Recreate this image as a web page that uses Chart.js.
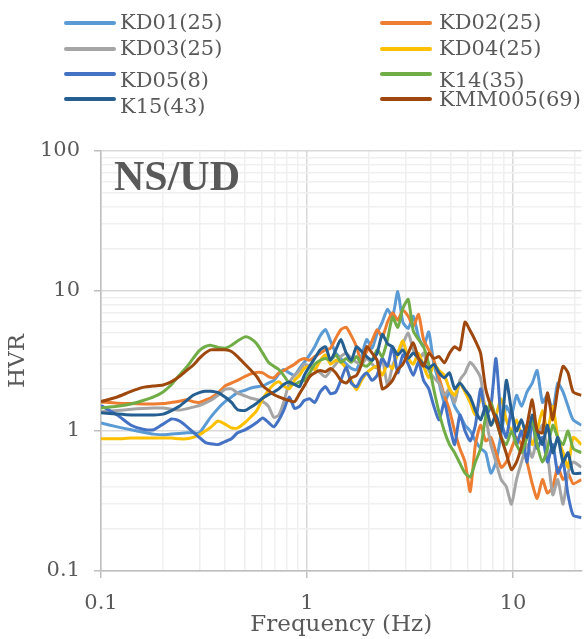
<!DOCTYPE html>
<html>
<head>
<meta charset="utf-8">
<script src="https://cdn.jsdelivr.net/npm/chart.js@4.4.0/dist/chart.umd.min.js"></script>
<style>
  body { margin: 0; background: #fff; }
  #wrap { position: relative; width: 588px; height: 639px; overflow: hidden; }
  #wrap canvas { position: absolute; left: 0; top: 0; }
  .leg-line { position: absolute; width: 52px; height: 4px; border-radius: 2px; }
  .leg-text { position: absolute; font-family: "DejaVu Serif"; font-size: 21px; line-height: 21px; color: #595959; white-space: nowrap; }
  #tag { position: absolute; left: 114px; top: 155px; font-family: "Liberation Serif"; font-weight: bold; font-size: 42px; line-height: 42px; color: #595959; }
</style>
</head>
<body>
<div id="wrap">
  <canvas id="hvr" width="588" height="639"></canvas>
  <div id="tag">NS/UD</div>
</div>
<script>
// frequencies (Hz), shared by every station
const freq = [0.1, 0.12, 0.14, 0.16, 0.18, 0.2, 0.22, 0.24, 0.26, 0.28,
  0.3, 0.32, 0.34, 0.37, 0.4, 0.43, 0.46, 0.5, 0.53, 0.57,
  0.61, 0.65, 0.69, 0.73, 0.77, 0.82, 0.87, 0.92, 0.97, 1.03,
  1.09, 1.16, 1.23, 1.3, 1.38, 1.46, 1.55, 1.64, 1.74, 1.84,
  1.95, 2.07, 2.19, 2.32, 2.46, 2.6, 2.76, 2.92, 3.1, 3.28,
  3.48, 3.68, 3.9, 4.13, 4.38, 4.64, 4.92, 5.21, 5.52, 5.85,
  6.2, 6.57, 6.96, 7.37, 7.81, 8.27, 8.76, 9.28, 9.83, 10.4,
  11.0, 11.7, 12.4, 13.1, 13.9, 14.7, 15.6, 16.5, 17.5, 18.5,
  19.6, 21.5]

// H/V ratios
const kd01 = [1.14, 1.07, 1.02, 0.98, 0.95, 0.94, 0.95, 0.96, 0.97, 0.97,
  0.97, 1.1, 1.25, 1.45, 1.62, 1.75, 1.88, 1.95, 2.02, 2.07,
  2.1, 2.2, 2.3, 2.55, 2.75, 2.6, 2.5, 2.8, 3.1, 3.5,
  4.0, 4.8, 5.3, 4.4, 3.6, 3.3, 3.0, 2.8, 2.74, 3.4,
  4.5, 3.9, 5.0, 6.0, 7.4, 6.5, 9.9, 6.0, 5.4, 6.6,
  4.7, 4.0, 5.1, 3.0, 2.2, 1.6, 1.9, 1.5, 1.3, 1.1,
  1.0, 0.85, 0.75, 0.7, 0.5, 0.6, 0.95, 1.5, 1.3, 1.8,
  1.5, 1.9, 2.2, 2.7, 1.6, 1.8, 1.4, 2.2, 1.9, 1.5,
  1.2, 1.1]
const kd02 = [1.61, 1.58, 1.57, 1.56, 1.56, 1.57, 1.6, 1.63, 1.67, 1.62,
  1.6, 1.66, 1.72, 1.87, 2.1, 2.2, 2.3, 2.45, 2.55, 2.62,
  2.6, 2.45, 2.4, 2.6, 2.7, 2.85, 3.0, 3.2, 3.3, 3.2,
  3.4, 3.6, 3.8, 3.9, 4.6, 5.3, 5.5, 4.8, 4.0, 3.1,
  3.7, 4.4, 5.3, 4.7, 6.0, 7.0, 6.2, 7.3, 6.6, 5.6,
  6.8, 4.5, 3.8, 3.2, 2.4, 1.8, 1.4, 1.0, 0.75, 0.6,
  0.37, 0.8, 1.1, 0.85, 0.9, 0.7, 0.55, 0.6, 0.75, 0.9,
  0.8, 0.6, 0.42, 0.33, 0.45, 0.36, 0.4, 0.55, 0.45, 0.5,
  0.42, 0.45]
const kd03 = [1.37, 1.4, 1.43, 1.45, 1.46, 1.46, 1.43, 1.41, 1.44, 1.48,
  1.52, 1.58, 1.65, 1.8, 1.98, 2.0, 1.87, 1.78, 1.72, 1.68,
  1.62, 1.5, 1.25, 1.3, 1.6, 2.2, 2.5, 2.7, 3.0, 2.9,
  2.8, 2.6, 2.44, 2.7, 3.0, 3.4, 3.6, 3.3, 3.1, 3.0,
  3.3, 3.0, 2.8, 3.3, 2.1, 2.9, 3.6, 4.2, 5.0, 3.8,
  3.2, 3.6, 2.7, 2.4, 2.2, 1.8, 2.0, 1.6, 2.3, 2.6,
  3.1, 2.8, 2.4, 1.3, 0.8, 0.6, 0.45, 0.4, 0.3, 0.45,
  0.6, 0.8, 0.65, 0.9, 1.1, 0.7, 0.35, 0.45, 0.3, 0.5,
  0.6, 0.55]
const kd04 = [0.88, 0.88, 0.89, 0.89, 0.89, 0.89, 0.89, 0.88, 0.88, 0.9,
  0.94, 1.0, 1.06, 1.18, 1.12, 1.05, 1.05, 1.15, 1.25, 1.4,
  1.7, 1.95, 2.15, 2.25, 2.1, 2.0, 2.3, 2.5, 2.8, 2.9,
  2.74, 3.2, 3.5, 3.0, 3.2, 3.1, 2.8, 2.3, 1.97, 2.3,
  2.6, 2.8, 2.9, 2.5, 3.0, 2.8, 3.6, 4.4, 3.3, 3.0,
  3.6, 2.9, 2.4, 3.0, 2.7, 2.5, 2.0, 1.8, 2.2, 1.9,
  1.6, 1.3, 1.7, 1.5, 1.1, 1.3, 1.7, 1.2, 1.0, 1.2,
  0.95, 1.1, 0.8, 1.0, 1.4, 1.0, 1.5, 0.9, 0.7, 0.55,
  0.9, 0.8]
const kd05 = [1.52, 1.3, 1.1, 1.03, 1.02, 1.12, 1.22, 1.18, 1.08, 0.98,
  0.9, 0.83, 0.81, 0.8, 0.84, 0.88, 0.97, 1.02, 1.07, 1.15,
  1.24, 1.15, 1.07, 1.2, 1.4, 1.75, 1.45, 1.5, 1.65, 1.7,
  1.6, 1.9, 2.07, 1.85, 1.9, 2.3, 2.87, 2.2, 2.07, 2.4,
  2.6, 2.3, 2.5, 3.3, 2.9, 4.0, 2.6, 3.5, 3.0, 2.5,
  3.1, 2.3, 2.0, 1.5, 1.2, 1.6, 1.1, 0.8, 1.3, 1.0,
  0.85, 1.1, 2.0, 1.3, 1.5, 3.3, 1.2, 0.9, 1.4, 0.8,
  1.0, 0.6, 1.2, 0.75, 0.9, 0.6, 0.8, 0.5, 0.6, 0.35,
  0.25, 0.24]
const k14 = [1.46, 1.5, 1.56, 1.65, 1.75, 1.9, 2.15, 2.5, 2.85, 3.3,
  3.75, 4.0, 4.1, 3.95, 3.9, 4.1, 4.4, 4.7, 4.6, 4.2,
  3.6, 3.1, 2.9, 2.75, 2.5, 2.2, 2.15, 2.24, 2.3, 2.6,
  3.0, 3.2, 3.3, 3.2, 3.5, 3.1, 3.3, 3.1, 3.4, 3.0,
  2.9, 3.2, 3.8, 3.4, 4.5, 6.5, 5.5, 7.5, 8.7, 5.2,
  4.5, 4.0, 3.0, 1.97, 1.35, 1.0, 0.8, 0.7, 0.59, 0.5,
  0.47, 0.6, 0.75, 1.26, 1.6, 1.2, 0.9, 0.8, 1.0, 0.8,
  0.7, 0.9, 1.2, 0.8, 0.6, 0.75, 1.1, 0.9, 0.8, 1.0,
  0.75, 0.7]
const k15 = [1.35, 1.32, 1.3, 1.3, 1.3, 1.32, 1.4, 1.5, 1.65, 1.8,
  1.88, 1.92, 1.92, 1.88, 1.75, 1.6, 1.42, 1.4, 1.47, 1.58,
  1.72, 1.82, 1.9, 2.0, 2.15, 2.24, 2.15, 2.07, 2.5, 2.9,
  3.3, 3.8, 4.0, 3.2, 3.8, 4.5, 3.6, 3.2, 4.0, 3.7,
  3.4, 3.2, 3.6, 4.9, 4.2, 4.0, 3.5, 3.8, 3.3, 3.6,
  3.3, 3.0, 2.8, 3.0, 2.6, 2.4, 2.6, 2.0, 2.2, 1.97,
  1.75, 1.4, 1.2, 1.5, 1.1, 1.3, 1.0, 2.3, 1.4, 1.0,
  1.2, 0.9, 1.3, 1.0, 0.8, 1.1, 0.7, 0.9, 0.6, 0.7,
  0.5, 0.5]
const kmm005 = [1.62, 1.75, 1.92, 2.05, 2.1, 2.13, 2.25, 2.45, 2.7, 2.95,
  3.3, 3.6, 3.8, 3.8, 3.8, 3.7, 3.4, 3.0, 2.75, 2.45,
  2.1, 1.95, 1.82, 1.75, 1.7, 1.65, 1.62, 1.85, 2.1, 2.44,
  2.6, 2.7, 2.65, 2.8, 2.6, 2.3, 2.2, 2.4, 2.5, 3.0,
  4.0, 3.6, 3.2, 2.0, 2.1, 2.3, 2.74, 3.0, 3.6, 4.27,
  3.3, 2.9, 3.6, 3.3, 3.4, 3.07, 3.6, 4.0, 3.8, 6.0,
  5.2, 4.4, 3.6, 2.0, 1.5, 1.2, 0.9, 0.69, 0.53, 0.6,
  0.77, 1.1, 1.67, 1.0, 0.97, 1.87, 1.2, 2.0, 2.9, 2.6,
  1.9, 1.8]

const seriesNames = ['KD01(25)', 'KD02(25)', 'KD03(25)', 'KD04(25)', 'KD05(8)', 'K14(35)', 'K15(43)', 'KMM005(69)']
const seriesValues = [kd01, kd02, kd03, kd04, kd05, k14, k15, kmm005]
const seriesColors = ['#5B9BD5', '#ED7D31', '#A5A5A5', '#FFC000', '#4472C4', '#70AD47', '#255E91', '#9E480E']

const xMin = 0.1, xMax = 21.5
const yMin = 0.1, yMax = 100

// 1..9 x 10^n ticks so every minor grid line shows
function logTicks(min, max) {
  let out = []
  for (let e = -2; e <= 3; e++) {
    for (let m = 1; m <= 9; m++) {
      let v = +(m * Math.pow(10, e)).toPrecision(3)
      if (v >= min - 1e-9 && v <= max + 1e-9) out.push({ value: v })
    }
  }
  return out
}
function isMajor(v) {
  let l = Math.log10(v)
  return Math.abs(l - Math.round(l)) < 1e-6
}

const gridColor = c => (c.tick && isMajor(c.tick.value)) ? '#d9d9d9' : '#f0f0f0'
const tickColor = c => (c.tick && isMajor(c.tick.value)) ? '#bfbfbf' : 'rgba(0,0,0,0)'
const font = { family: 'DejaVu Serif', size: 21 }

let datasets = seriesValues.map((vals, i) => ({
  label: seriesNames[i],
  data: vals.map((v, j) => ({ x: freq[j], y: v })),
  borderColor: seriesColors[i],
  backgroundColor: seriesColors[i],
  borderWidth: 3,
  pointRadius: 0,
  tension: 0.2,
  order: seriesNames.length - i
}))

new Chart(document.getElementById('hvr'), {
  type: 'line',
  data: { datasets: datasets },
  options: {
    responsive: false,
    animation: false,
    events: [],
    layout: { padding: { top: 151, right: 0, left: 0, bottom: 0 } },
    plugins: { legend: { display: false }, tooltip: { enabled: false } },
    scales: {
      x: {
        type: 'logarithmic', min: xMin, max: xMax,
        afterBuildTicks: s => { s.ticks = logTicks(xMin, xMax) },
        afterFit: s => { s.height = 68 },
        ticks: { autoSkip: false, maxRotation: 0, padding: 13, color: '#595959', font: font,
          callback: v => isMajor(v) ? String(v) : '' },
        grid: { color: gridColor, lineWidth: 1.5, tickLength: 7, tickColor: tickColor },
        border: { color: '#bfbfbf', width: 1.5 },
        title: { display: true, text: 'Frequency (Hz)', color: '#595959',
          font: { family: 'DejaVu Serif', size: 23 }, padding: { top: 0, bottom: 0 } }
      },
      y: {
        type: 'logarithmic', min: yMin, max: yMax,
        afterBuildTicks: s => { s.ticks = logTicks(yMin, yMax) },
        afterFit: s => { s.width = 101 },
        ticks: { autoSkip: false, padding: 14, color: '#595959', font: font,
          callback: v => isMajor(v) ? String(v) : '' },
        grid: { color: gridColor, lineWidth: 1.5, tickLength: 7, tickColor: tickColor },
        border: { color: '#bfbfbf', width: 1.5 },
        title: { display: true, text: 'HVR', color: '#595959',
          font: { family: 'DejaVu Serif', size: 23 }, padding: { top: 4, bottom: 0 } }
      }
    }
  }
})

// legend laid out like the original: two columns, four rows
const legLineY = [23, 49, 74, 99]
const legTextY = [23, 23, 49, 49, 81, 81, 107, 100]
const wrap = document.getElementById('wrap')
seriesNames.forEach((name, i) => {
  let col = i % 2, row = Math.floor(i / 2)
  let line = document.createElement('div')
  line.className = 'leg-line'
  line.style.background = seriesColors[i]
  line.style.left = (col ? 380 : 64) + 'px'
  line.style.top = (legLineY[row] - 2) + 'px'
  wrap.appendChild(line)
  let txt = document.createElement('div')
  txt.className = 'leg-text'
  txt.textContent = name
  txt.style.left = (col ? 439 : 120) + 'px'
  txt.style.top = (legTextY[i] - 11) + 'px'
  wrap.appendChild(txt)
})
</script>
</body>
</html>
